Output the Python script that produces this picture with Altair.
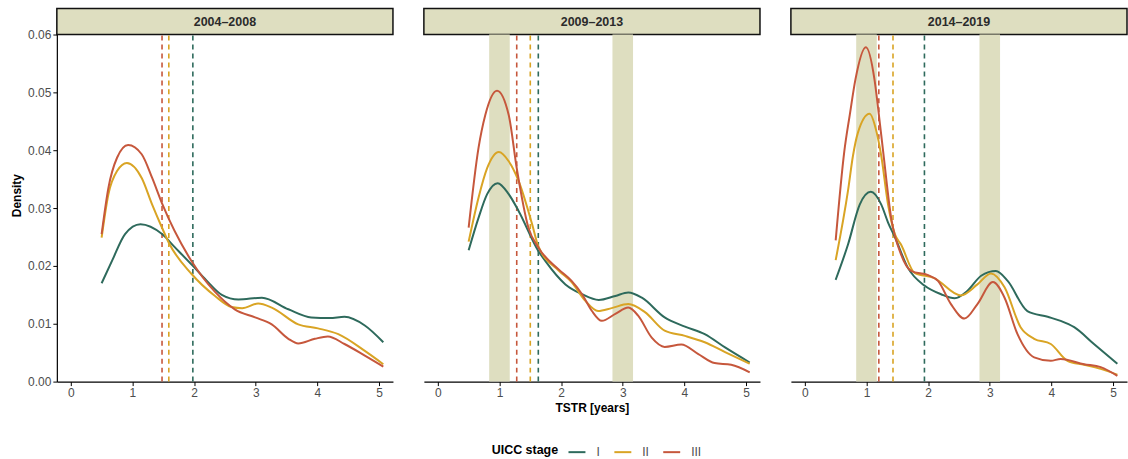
import altair as alt
import pandas as pd

PERIODS = ["2004\u20132008", "2009\u20132013", "2014\u20132019"]
STAGES = ["I", "II", "III"]
COLORS = ["#2E6A5C", "#D9A424", "#C6573C"]

# Panel 1: 2004-2008
P1_I_X = [0.5, 0.67, 0.88, 1.13, 1.48, 1.69, 1.98, 2.2, 2.45, 2.72, 3.1, 3.53, 3.9, 4.2, 4.44, 4.77, 5.07]
P1_I_Y = [0.0170, 0.0209, 0.0255, 0.0272, 0.0255, 0.0232, 0.0200, 0.0175, 0.0150, 0.0142, 0.0145, 0.0125, 0.0111, 0.0110, 0.0112, 0.0097, 0.0068]
P1_II_X = [0.5, 0.61, 0.75, 0.91, 1.15, 1.32, 1.48, 1.59, 1.96, 2.34, 2.61, 2.78, 3.04, 3.26, 3.69, 4.01, 4.34, 4.77, 5.07]
P1_II_Y = [0.0249, 0.0324, 0.0364, 0.0378, 0.0352, 0.0306, 0.0266, 0.0240, 0.0186, 0.0148, 0.0129, 0.0127, 0.0135, 0.0128, 0.0099, 0.0092, 0.0082, 0.0053, 0.0030]
P1_III_X = [0.5, 0.61, 0.75, 0.93, 1.15, 1.32, 1.48, 1.96, 2.34, 2.66, 2.99, 3.26, 3.53, 3.69, 3.96, 4.17, 4.44, 4.77, 5.07]
P1_III_Y = [0.0255, 0.0335, 0.0387, 0.0409, 0.0393, 0.0352, 0.0308, 0.0208, 0.0155, 0.0125, 0.0111, 0.0099, 0.0074, 0.0066, 0.0074, 0.0078, 0.0065, 0.0045, 0.0026]

# Panel 2: 2009-2013
P2_I_X = [0.5, 0.66, 0.80, 0.97, 1.15, 1.31, 1.63, 1.74, 2.07, 2.34, 2.61, 2.88, 3.09, 3.31, 3.68, 4.01, 4.33, 4.66, 5.06]
P2_I_Y = [0.0227, 0.0283, 0.0324, 0.0343, 0.0324, 0.0295, 0.0226, 0.0209, 0.0168, 0.0151, 0.0141, 0.0148, 0.0154, 0.0145, 0.0111, 0.0095, 0.0082, 0.0059, 0.0033]
P2_II_X = [0.5, 0.66, 0.80, 0.99, 1.15, 1.31, 1.53, 1.63, 1.96, 2.17, 2.39, 2.60, 2.82, 3.09, 3.36, 3.68, 4.01, 4.33, 4.66, 5.06]
P2_II_Y = [0.0242, 0.0318, 0.0369, 0.0397, 0.0381, 0.0347, 0.0272, 0.0234, 0.0192, 0.0172, 0.0140, 0.0122, 0.0127, 0.0134, 0.0120, 0.0088, 0.0079, 0.0068, 0.0051, 0.0031]
P2_III_X = [0.5, 0.66, 0.77, 0.96, 1.15, 1.28, 1.47, 1.63, 1.96, 2.17, 2.34, 2.50, 2.66, 2.88, 3.09, 3.25, 3.47, 3.68, 3.95, 4.22, 4.49, 4.76, 5.06]
P2_III_Y = [0.0266, 0.0404, 0.0461, 0.0503, 0.0461, 0.0369, 0.0266, 0.0232, 0.0194, 0.0174, 0.0151, 0.0122, 0.0105, 0.0117, 0.0128, 0.0114, 0.0076, 0.0060, 0.0064, 0.0048, 0.0032, 0.0029, 0.0016]

# Panel 3: 2014-2019
P3_I_X = [0.5, 0.70, 0.89, 1.07, 1.24, 1.35, 1.46, 1.67, 1.94, 2.21, 2.43, 2.64, 2.86, 3.10, 3.29, 3.61, 3.94, 4.15, 4.37, 4.69, 5.07]
P3_I_Y = [0.0176, 0.0237, 0.0306, 0.0328, 0.0306, 0.0275, 0.0250, 0.0197, 0.0166, 0.0151, 0.0144, 0.0157, 0.0183, 0.0191, 0.0174, 0.0122, 0.0112, 0.0105, 0.0094, 0.0065, 0.0031]
P3_II_X = [0.5, 0.70, 0.78, 0.86, 1.05, 1.16, 1.24, 1.35, 1.46, 1.56, 1.78, 2.10, 2.53, 2.80, 3.02, 3.24, 3.50, 3.72, 3.99, 4.26, 4.53, 4.80, 5.07]
P3_II_Y = [0.0210, 0.0330, 0.0390, 0.0430, 0.0463, 0.0433, 0.0390, 0.0306, 0.0255, 0.0237, 0.0188, 0.0179, 0.0149, 0.0168, 0.0187, 0.0163, 0.0094, 0.0074, 0.0065, 0.0036, 0.0029, 0.0022, 0.0012]
P3_III_X = [0.5, 0.64, 0.73, 0.82, 0.99, 1.13, 1.20, 1.27, 1.40, 1.56, 1.73, 2.00, 2.16, 2.37, 2.59, 2.80, 3.05, 3.24, 3.45, 3.72, 3.99, 4.15, 4.53, 4.80, 5.07]
P3_III_Y = [0.0244, 0.0398, 0.0462, 0.0522, 0.0578, 0.0522, 0.0462, 0.0398, 0.0283, 0.0220, 0.0191, 0.0184, 0.0174, 0.0134, 0.0109, 0.0134, 0.0172, 0.0145, 0.0082, 0.0042, 0.0036, 0.0039, 0.0030, 0.0025, 0.0010]

# Median TSTR per period (I, II, III)
MEDIANS = [[1.98, 1.59, 1.48], [1.63, 1.50, 1.28], [1.94, 1.43, 1.20]]

# Highlighted windows (panels 2 and 3)
BAND_LO = [0.833, 2.833]
BAND_HI = [1.167, 3.167]
BAND_PANELS = [1, 2]

X_TICKS = [0, 1, 2, 3, 4, 5]
Y_TICKS = [0, 0.01, 0.02, 0.03, 0.04, 0.05, 0.06]

SERIES = [
    [(P1_I_X, P1_I_Y), (P1_II_X, P1_II_Y), (P1_III_X, P1_III_Y)],
    [(P2_I_X, P2_I_Y), (P2_II_X, P2_II_Y), (P2_III_X, P2_III_Y)],
    [(P3_I_X, P3_I_Y), (P3_II_X, P3_II_Y), (P3_III_X, P3_III_Y)],
]

XMIN, XMAX = -0.2265, 5.2265
YTOP = 0.06
PLOT_H = 348
STRIP_H = 26
YMAX = YTOP * (PLOT_H + STRIP_H) / PLOT_H
W = 337
BAND_COLOR = "#DEDEC0"
FONT = "Liberation Sans"

color_scale = alt.Scale(domain=STAGES, range=COLORS)


def panel(i):
    rows = []
    for s, (xs, ys) in zip(STAGES, SERIES[i]):
        for xv, yv in zip(xs, ys):
            rows.append({"x": xv, "y": yv, "stage": s})
    df = pd.DataFrame(rows)
    med = pd.DataFrame({"stage": STAGES, "median": MEDIANS[i]})
    med["y0"] = 0.0
    med["y1"] = YTOP

    xscale = alt.Scale(domain=[XMIN, XMAX], nice=False, zero=False)
    yscale = alt.Scale(domain=[0, YMAX], nice=False, zero=True)

    xaxis = alt.Axis(values=X_TICKS, format="d", grid=False,
                     title="TSTR [years]" if i == 1 else None)
    if i == 0:
        yaxis = alt.Axis(values=Y_TICKS, format=".2f", grid=False, title="Density")
    else:
        yaxis = None

    legend = alt.Legend(title="UICC stage")

    lines = alt.Chart(df).mark_line(interpolate="monotone", strokeWidth=2).encode(
        x=alt.X("x:Q", scale=xscale, axis=xaxis),
        y=alt.Y("y:Q", scale=yscale, axis=yaxis),
        color=alt.Color("stage:N", scale=color_scale, sort=STAGES, legend=legend),
    )

    rules = alt.Chart(med).mark_rule(strokeDash=[5, 4], strokeWidth=1.6).encode(
        x=alt.X("median:Q", scale=xscale, axis=xaxis),
        y=alt.Y("y0:Q", scale=yscale, axis=yaxis),
        y2="y1:Q",
        color=alt.Color("stage:N", scale=color_scale, sort=STAGES, legend=legend),
    )

    strip_df = pd.DataFrame({"label": [PERIODS[i]]})
    strip_df["x0"] = XMIN
    strip_df["x1"] = XMAX
    strip_df["xm"] = (XMIN + XMAX) / 2
    strip_df["y0"] = YTOP
    strip_df["y1"] = YMAX
    strip_df["ym"] = (YTOP + YMAX) / 2

    strip = alt.Chart(strip_df).mark_rect(
        fill=BAND_COLOR, stroke="#111111", strokeWidth=1.5
    ).encode(
        x=alt.X("x0:Q", scale=xscale, axis=xaxis),
        x2="x1:Q",
        y=alt.Y("y0:Q", scale=yscale, axis=yaxis),
        y2="y1:Q",
    )
    strip_text = alt.Chart(strip_df).mark_text(
        fontWeight="bold", fontSize=12.5, font=FONT, color="#2b2b2b", baseline="middle"
    ).encode(
        x=alt.X("xm:Q", scale=xscale, axis=xaxis),
        y=alt.Y("ym:Q", scale=yscale, axis=yaxis),
        text="label:N",
    )

    layers = [strip, strip_text]
    if i in BAND_PANELS:
        band_df = pd.DataFrame({"lo": BAND_LO, "hi": BAND_HI})
        band_df["y0"] = 0.0
        band_df["y1"] = YTOP
        bands = alt.Chart(band_df).mark_rect(color=BAND_COLOR).encode(
            x=alt.X("lo:Q", scale=xscale, axis=xaxis),
            x2="hi:Q",
            y=alt.Y("y0:Q", scale=yscale, axis=yaxis),
            y2="y1:Q",
        )
        layers.append(bands)
    layers += [rules, lines]
    return alt.layer(*layers).properties(width=W, height=PLOT_H + STRIP_H)


chart = alt.hconcat(panel(0), panel(1), panel(2), spacing=29).properties(
    padding={"left": 10, "top": 7, "right": 0, "bottom": 0}
).configure_view(stroke=None).configure_axis(
    labelFont=FONT, titleFont=FONT, labelFontSize=12, titleFontSize=12,
    labelColor="#4d4d4d", titleColor="#000000", titleFontWeight="bold",
    domainColor="#000000", tickColor="#000000", domainWidth=1.2, tickWidth=1,
    tickSize=4, labelPadding=2,
).configure_legend(
    orient="none", legendX=436, legendY=435, direction="horizontal", titleOrient="left",
    symbolType="stroke", symbolStrokeWidth=2, symbolSize=289,
    titleFont=FONT, labelFont=FONT, titleFontSize=12.5, labelFontSize=12,
    titleFontWeight="bold", titleColor="#000000", labelColor="#4d4d4d",
    columnPadding=10, labelOffset=10, titlePadding=9,
)

chart.save("out.html", embed_options={"renderer": "svg", "actions": False})
